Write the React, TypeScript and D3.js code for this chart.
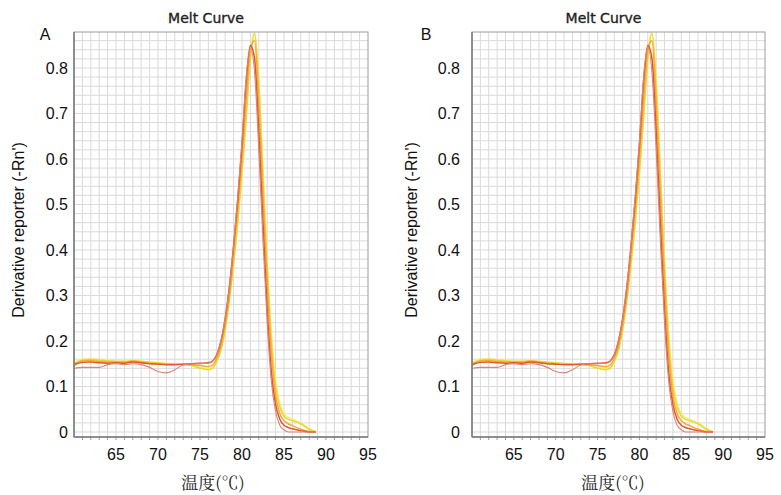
import React from 'react';
import * as d3 from 'd3';

// temperature samples (°C)
const temps = [
  60, 61, 62, 63, 64, 65, 66, 67, 68, 69, 70, 71, 72, 73, 74, 75, 76,
  76.5, 77, 77.5, 78, 78.5, 79, 79.5, 80, 80.5, 81, 81.5, 82, 82.5, 83, 83.5,
  84, 84.5, 85, 85.5, 86, 87, 88, 88.8,
];

// derivative reporter values per well
const wellSalmon = [
  0.14, 0.142, 0.142, 0.142, 0.148, 0.15, 0.148, 0.15, 0.148, 0.142, 0.133, 0.13, 0.137, 0.147, 0.15, 0.15, 0.151,
  0.155, 0.17, 0.2, 0.25, 0.32, 0.41, 0.52, 0.64, 0.78, 0.845, 0.79, 0.62, 0.42, 0.24, 0.11,
  0.045, 0.015, 0.005, 0, 0, 0, 0, 0,
];
const wellRed = [
  0.148, 0.153, 0.154, 0.152, 0.151, 0.152, 0.151, 0.154, 0.152, 0.15, 0.149, 0.148, 0.148, 0.149, 0.15, 0.151, 0.152,
  0.156, 0.17, 0.2, 0.25, 0.32, 0.41, 0.51, 0.63, 0.77, 0.85, 0.82, 0.66, 0.46, 0.27, 0.13,
  0.06, 0.028, 0.015, 0.01, 0.007, 0.003, 0, 0,
];
const wellOrange = [
  0.15, 0.156, 0.157, 0.155, 0.154, 0.154, 0.153, 0.156, 0.154, 0.151, 0.15, 0.149, 0.149, 0.149, 0.148, 0.146, 0.144,
  0.147, 0.162, 0.19, 0.238, 0.3, 0.39, 0.49, 0.6, 0.73, 0.84, 0.86, 0.72, 0.52, 0.33, 0.17,
  0.08, 0.04, 0.025, 0.018, 0.014, 0.006, 0.001, 0,
];
const wellYellow = [
  0.145, 0.158, 0.16, 0.158, 0.156, 0.155, 0.155, 0.156, 0.155, 0.153, 0.152, 0.15, 0.149, 0.148, 0.146, 0.14, 0.137,
  0.14, 0.155, 0.18, 0.225, 0.29, 0.37, 0.46, 0.57, 0.69, 0.82, 0.875, 0.76, 0.56, 0.36, 0.2,
  0.1, 0.055, 0.035, 0.028, 0.025, 0.018, 0.006, 0,
];
const wellPale = [
  0.152, 0.16, 0.161, 0.159, 0.157, 0.156, 0.156, 0.157, 0.156, 0.154, 0.152, 0.151, 0.15, 0.149, 0.147, 0.142, 0.139,
  0.142, 0.156, 0.182, 0.228, 0.292, 0.372, 0.465, 0.575, 0.7, 0.83, 0.88, 0.78, 0.58, 0.38, 0.22,
  0.115, 0.065, 0.04, 0.032, 0.028, 0.02, 0.008, 0,
];

const wells = [
  { name: 'w1', values: wellPale, color: '#f0ee8c', width: 1.4 },
  { name: 'w2', values: wellYellow, color: '#ecd92a', width: 1.6 },
  { name: 'w3', values: wellOrange, color: '#f2a93a', width: 1.5 },
  { name: 'w4', values: wellRed, color: '#e2562c', width: 1.5 },
  { name: 'w5', values: wellSalmon, color: '#dc8576', width: 1.1 },
];

const xTicks = [65, 70, 75, 80, 85, 90, 95];
const yTicks = [0, 0.1, 0.2, 0.3, 0.4, 0.5, 0.6, 0.7, 0.8];

const panels = [
  { tag: 'A', left: 74, right: 368, tagX: 45, yLabelX: 18, tickGap: 6, xLabelX: 213 },
  { tag: 'B', left: 472, right: 765, tagX: 426, yLabelX: 411, tickGap: 12, xLabelX: 613 },
];

const top = 32;
const bottom = 437;
const sans = 'Arial, "Liberation Sans", sans-serif';

function Panel({ p }) {
  const x = d3.scaleLinear().domain([60, 95]).range([p.left, p.right]);
  const y = d3.scaleLinear().domain([-0.011, 0.879]).range([bottom, top]);

  const line = d3
    .line()
    .x((d) => x(d[0]))
    .y((d) => y(d[1]))
    .curve(d3.curveMonotoneX);

  const vGrid = d3.range(61, 95, 1);
  const hGrid = d3.range(0, 0.87, 0.02);
  const mid = (p.left + p.right) / 2;

  return (
    <g>
      {/* grid */}
      {vGrid.map((t) => (
        <line key={'v' + t} x1={x(t)} x2={x(t)} y1={top} y2={bottom} stroke="#d9d9d9" strokeWidth={1} />
      ))}
      {hGrid.map((t, i) => (
        <line key={'h' + i} x1={p.left} x2={p.right} y1={y(t)} y2={y(t)} stroke="#d9d9d9" strokeWidth={1} />
      ))}
      {/* small ticks under the axis */}
      {d3.range(61, 95, 1).map((t) => (
        <line key={'mt' + t} x1={x(t)} x2={x(t)} y1={bottom} y2={bottom + 3} stroke="#9a9a9a" strokeWidth={1} />
      ))}

      {/* curves */}
      <g clipPath={`url(#clip${p.tag})`}>
        {wells.map((w) => (
          <path
            key={w.name}
            d={line(temps.map((t, i) => [t, w.values[i]]))}
            fill="none"
            stroke={w.color}
            strokeWidth={w.width}
            strokeLinejoin="round"
          />
        ))}
      </g>
      <clipPath id={`clip${p.tag}`}>
        <rect x={p.left} y={top} width={p.right - p.left} height={bottom - top} />
      </clipPath>

      {/* frame */}
      <rect x={p.left} y={top} width={p.right - p.left} height={bottom - top} fill="none" stroke="#9a9a9a" strokeWidth={1} />
      <line x1={p.left} x2={p.left} y1={top} y2={bottom} stroke="#7a7a7a" strokeWidth={1.5} />
      <line x1={p.left} x2={p.right} y1={bottom} y2={bottom} stroke="#7a7a7a" strokeWidth={1.5} />

      {/* tick labels */}
      {yTicks.map((t) => (
        <text key={'yl' + t} x={p.left - p.tickGap} y={y(t)} dy="0.35em" textAnchor="end" fontSize={16} fontFamily={sans} fill="#111">
          {t === 0 ? '0' : t.toFixed(1)}
        </text>
      ))}
      {xTicks.map((t) => (
        <text key={'xl' + t} x={x(t)} y={460} textAnchor="middle" fontSize={16} fontFamily={sans} fill="#111">
          {t}
        </text>
      ))}

      {/* titles */}
      <text x={mid - 15} y={23} textAnchor="middle" fontSize={14} fontFamily='"DejaVu Sans", sans-serif' fill="#222" stroke="#222" strokeWidth={0.35}>
        Melt Curve
      </text>
      <text x={p.tagX} y={40} textAnchor="middle" fontSize={16} fontFamily={sans} fill="#111">
        {p.tag}
      </text>
      <text
        transform={`translate(${p.yLabelX},${230}) rotate(-90)`}
        textAnchor="middle"
        dy="0.35em"
        fontSize={16}
        fontFamily={sans}
        fill="#111"
      >
        Derivative reporter (-Rn')
      </text>
      <text x={p.xLabelX} y={489} textAnchor="middle" fontSize={17} fontFamily='"Noto Serif CJK SC", "Noto Sans CJK SC", serif' fill="#222">
        温度(℃)
      </text>
    </g>
  );
}

export default function App() {
  return (
    <svg width={781} height={495} style={{ position: 'absolute', left: 0, top: 0, background: '#fff' }}>
      <rect width={781} height={495} fill="#fff" />
      {panels.map((p) => (
        <Panel key={p.tag} p={p} />
      ))}
    </svg>
  );
}
